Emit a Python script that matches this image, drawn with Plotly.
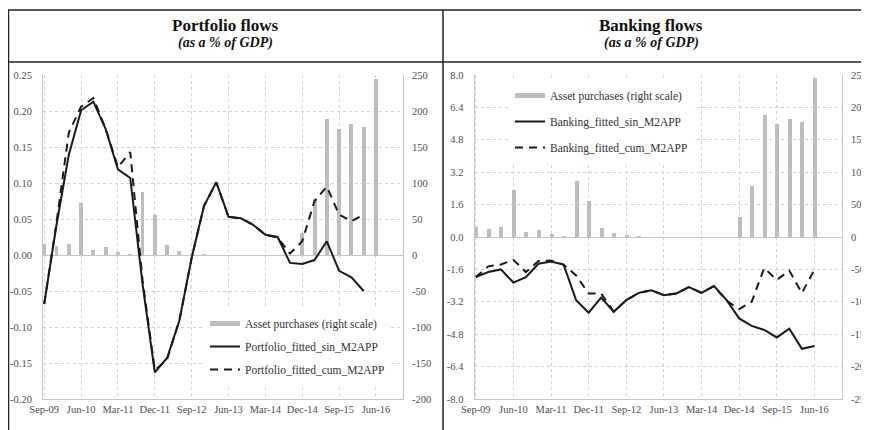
import plotly.graph_objects as go

# quarterly observations
quarters = ["Sep-09", "Dec-09", "Mar-10", "Jun-10", "Sep-10", "Dec-10", "Mar-11", "Jun-11",
            "Sep-11", "Dec-11", "Mar-12", "Jun-12", "Sep-12", "Dec-12", "Mar-13", "Jun-13",
            "Sep-13", "Dec-13", "Mar-14", "Jun-14", "Sep-14", "Dec-14", "Mar-15", "Jun-15",
            "Sep-15", "Dec-15", "Mar-16", "Jun-16"]
tick_labels = ["Sep-09", "Jun-10", "Mar-11", "Dec-11", "Sep-12", "Jun-13", "Mar-14",
               "Dec-14", "Sep-15", "Jun-16"]

asset_purchases = [15, 13, 15, 72, 7, 11, 4, 1, 87, 55, 14, 6, 3, 1, 0, 0, 0, 0, 0, 0, 0,
                   31, 78, 189, 175, 182, 178, 245]

portfolio_sin = [-0.068, 0.042, 0.139, 0.201, 0.213, 0.175, 0.119, 0.107, -0.040, -0.163,
                 -0.143, -0.091, -0.004, 0.068, 0.101, 0.053, 0.051, 0.042, 0.028, 0.025,
                 -0.011, -0.0125, -0.007, 0.019, -0.022, -0.031, -0.050]
portfolio_cum = [-0.068, 0.045, 0.170, 0.206, 0.218, 0.175, 0.122, 0.143, -0.035, -0.160,
                 -0.145, -0.091, -0.004, 0.068, 0.101, 0.053, 0.051, 0.042, 0.028, 0.024,
                 0.002, 0.019, 0.075, 0.095, 0.056, 0.047, 0.056]

banking_sin = [-1.98, -1.73, -1.60, -2.25, -1.98, -1.32, -1.21, -1.36, -3.12, -3.74, -2.99,
               -3.69, -3.12, -2.76, -2.63, -2.87, -2.79, -2.47, -2.76, -2.42, -3.12, -4.02,
               -4.39, -4.59, -4.96, -4.53, -5.52, -5.38]
banking_cum = [-1.98, -1.45, -1.36, -1.13, -1.73, -1.19, -1.16, -1.36, -1.90, -2.79, -2.79,
               -3.69, -3.12, -2.76, -2.63, -2.87, -2.79, -2.47, -2.76, -2.42, -3.15, -3.56,
               -3.20, -1.53, -2.12, -1.66, -2.77, -1.62]

portfolio_ticks = [-0.20, -0.15, -0.10, -0.05, 0.0, 0.05, 0.10, 0.15, 0.20, 0.25]
portfolio_right_ticks = [-200, -150, -100, -50, 0, 50, 100, 150, 200, 250]
banking_ticks = [-8.0, -6.4, -4.8, -3.2, -1.6, 0.0, 1.6, 3.2, 4.8, 6.4, 8.0]
banking_right_ticks = [-250, -200, -150, -100, -50, 0, 50, 100, 150, 200, 250]

SERIF = "Liberation Serif"
BAR_GREY = "#bebebe"
LINE_BLACK = "#1a1a1a"
GRID = "#d2d2d2"
AXIS = "#c6c6c6"
TICK = "#4d4d4d"

# the page body adds an 8px margin, so the figure is sized to fill the rest of the window
W, H = 861, 422


def fx(px):
    return (px - 8) / W


def fy(py):
    return 1 - (py - 8) / H


fig = go.Figure()


def add_panel(xa, ya_bar, ya_line, sin_vals, cum_vals, sin_name, cum_name, legend):
    fig.add_trace(go.Bar(
        x=quarters, y=asset_purchases, xaxis=xa, yaxis=ya_bar,
        width=0.32, marker_color=BAR_GREY, marker_line_width=0, showlegend=False
    ))
    # legend entry for the bars, drawn as a thick grey stroke like the original
    fig.add_trace(go.Scatter(
        x=[None], y=[None], xaxis=xa, yaxis=ya_bar, mode='lines',
        line=dict(color=BAR_GREY, width=5), name="Asset purchases (right scale)",
        legend=legend, legendgroup=legend + 'a'
    ))
    fig.add_trace(go.Scatter(
        x=quarters[:len(sin_vals)], y=sin_vals, xaxis=xa, yaxis=ya_line, mode='lines',
        line=dict(color=LINE_BLACK, width=2), name=sin_name,
        legend=legend, legendgroup=legend + 'b'
    ))
    fig.add_trace(go.Scatter(
        x=quarters[:len(cum_vals)], y=cum_vals, xaxis=xa, yaxis=ya_line, mode='lines',
        line=dict(color=LINE_BLACK, width=2, dash='8px,6px'), name=cum_name,
        legend=legend, legendgroup=legend + 'c'
    ))


add_panel('x', 'y', 'y2', portfolio_sin, portfolio_cum,
          "Portfolio_fitted_sin_M2APP", "Portfolio_fitted_cum_M2APP", 'legend')
add_panel('x2', 'y3', 'y4', banking_sin, banking_cum,
          "Banking_fitted_sin_M2APP", "Banking_fitted_cum_M2APP", 'legend2')

tick_font = dict(family=SERIF, size=10.5, color=TICK)
y_dom = [fy(399), fy(75)]


def x_axis(domain, anchor):
    return dict(
        domain=domain, anchor=anchor, type='category', categoryarray=quarters,
        range=[-0.1, 29.2], tickmode='array', tickvals=tick_labels, ticktext=tick_labels,
        showgrid=True, gridcolor=GRID, griddash='dot', gridwidth=1,
        showline=True, linecolor=AXIS, linewidth=1, ticks='', tickfont=tick_font,
        automargin=False, zeroline=False
    )


def bar_axis(ticks, anchor):
    return dict(
        domain=y_dom, anchor=anchor, side='right', range=[ticks[0], ticks[-1]],
        tickmode='array', tickvals=ticks, ticktext=[str(t) for t in ticks],
        showgrid=True, gridcolor=GRID, griddash='dot', gridwidth=1,
        zeroline=True, zerolinecolor=AXIS, zerolinewidth=1,
        showline=True, linecolor=AXIS, linewidth=1, ticks='', ticklabelstandoff=6,
        tickfont=tick_font, automargin=False
    )


def line_axis(ticks, fmt, anchor, overlay):
    return dict(
        anchor=anchor, overlaying=overlay, side='left', range=[ticks[0], ticks[-1]],
        tickmode='array', tickvals=ticks, ticktext=[format(t, fmt) for t in ticks],
        showgrid=False, zeroline=False, showline=True, linecolor=AXIS, linewidth=1,
        ticks='', ticklabelstandoff=8, tickfont=tick_font, automargin=False
    )


legend_style = dict(
    bgcolor='white', borderwidth=0, xanchor='left', yanchor='top',
    font=dict(family=SERIF, size=11.5, color='#333333'), itemwidth=30
)

fig.update_layout(
    width=W, height=H,
    margin=dict(l=0, r=0, t=0, b=0),
    paper_bgcolor='white', plot_bgcolor='white',
    bargap=0, showlegend=True,
    xaxis=x_axis([fx(43), fx(403)], 'y'),
    yaxis=bar_axis(portfolio_right_ticks, 'x'),
    yaxis2=line_axis(portfolio_ticks, '.2f', 'x', 'y'),
    xaxis2=x_axis([fx(474.5), fx(842)], 'y3'),
    yaxis3=bar_axis(banking_right_ticks, 'x2'),
    yaxis4=line_axis(banking_ticks, '.1f', 'x2', 'y3'),
    legend=dict(x=fx(205), y=fy(309), tracegroupgap=4, **legend_style),
    legend2=dict(x=fx(510), y=fy(81), tracegroupgap=7, **legend_style),
)

# table frame around the two panels
frame = dict(type='line', xref='paper', yref='paper', line=dict(color='#222222', width=1.5))
fig.add_shape(x0=fx(8), x1=1, y0=fy(10), y1=fy(10), **frame)
fig.add_shape(x0=fx(8), x1=1, y0=fy(62), y1=fy(62), **frame)
fig.add_shape(x0=fx(8.5), x1=fx(8.5), y0=0, y1=fy(10), **frame)
fig.add_shape(x0=fx(443), x1=fx(443), y0=0, y1=fy(10), **frame)

titles = [("Portfolio flows", 225.5), ("Banking flows", 651)]
for title, cx in titles:
    fig.add_annotation(text="<b>" + title + "</b>", x=fx(cx), y=fy(25),
                       xref='paper', yref='paper', xanchor='center', yanchor='middle',
                       showarrow=False, font=dict(family=SERIF, size=17, color='#111111'))
    fig.add_annotation(text="<b><i>(as a % of GDP)</i></b>", x=fx(cx), y=fy(43),
                       xref='paper', yref='paper', xanchor='center', yanchor='middle',
                       showarrow=False, font=dict(family=SERIF, size=14, color='#111111'))

fig.write_html("out.html")
